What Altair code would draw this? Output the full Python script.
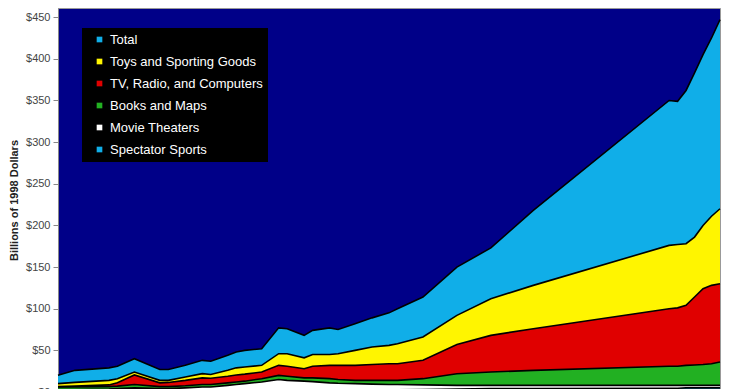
import altair as alt
import pandas as pd

years = [1920, 1922, 1926, 1927, 1929, 1932, 1933, 1935, 1937, 1938, 1940, 1941,
         1942, 1944, 1946, 1947, 1949, 1950, 1952, 1953, 1955, 1957, 1959, 1960,
         1963, 1967, 1971, 1976, 1992, 1993, 1994, 1995, 1996, 1997, 1998]

total = [20, 26, 29, 31, 40, 27, 27, 32, 38, 37, 44, 48,
         50, 52, 77, 76, 68, 74, 77, 75, 82, 89, 95, 100,
         114, 150, 173, 218, 350, 349, 362, 383, 405, 425, 447]
toys = [3.5, 4.5, 5.5, 5, 3.5, 3, 2.5, 4, 5, 4.5, 7, 8.5,
        8.5, 8, 14, 15, 13, 14, 13, 14, 18, 21, 22, 24,
        28, 35, 44, 52, 76, 76, 74, 72, 76, 83, 90]
tv = [0.5, 1, 2, 4, 11.5, 4.5, 5, 6.5, 8, 7.5, 8, 8.5,
      8.5, 8, 12, 12, 11, 14, 16, 17, 18, 19, 20, 20,
      22, 35, 44, 50, 69, 70, 72, 81.5, 91, 94, 94]
books = [3, 3, 3, 3, 4, 2.5, 2.5, 2.5, 3, 3, 3, 3,
         3, 4, 5, 5, 4, 4.5, 5, 4.5, 4, 4.5, 5, 5,
         7.5, 14, 16, 18, 23, 23, 24, 24.5, 25, 26, 28]
movies = [2, 2, 2.5, 3, 3.5, 3, 3, 4, 4.8, 4.8, 6.5, 7.5,
          8.5, 10.5, 13, 12, 11, 10.5, 9, 8.5, 7.5, 7, 6.5, 6.5,
          5.5, 4.5, 4, 4, 3.5, 3.5, 3, 3, 3, 3, 3]
sports = [1, 1, 1, 1, 1.5, 1, 1, 1, 1.2, 1.2, 1.5, 1.5,
          1.5, 1.5, 2, 2, 2, 2, 2, 2, 2.5, 2.5, 2.5, 2.5,
          3, 3.5, 4, 4, 4.5, 4.5, 5, 5, 5, 5, 5]

series_names = ["Total", "Toys and Sporting Goods", "TV, Radio, and Computers",
                "Books and Maps", "Movie Theaters", "Spectator Sports"]
series_colors = ["#10AEE8", "#FFF500", "#E00000", "#22B022", "#FFFFFF", "#10AEE8"]

# Build a long table with lower / upper bounds of each band
rows = []
for i, yr in enumerate(years):
    rows.append({"year": yr, "series": "Total", "lo": 0.0, "hi": total[i], "layer": 0})
    base = 0.0
    for rank, (name, vals) in enumerate([
            ("Spectator Sports", sports),
            ("Movie Theaters", movies),
            ("Books and Maps", books),
            ("TV, Radio, and Computers", tv),
            ("Toys and Sporting Goods", toys)]):
        rows.append({"year": yr, "series": name, "lo": base, "hi": base + vals[i],
                     "layer": rank + 1})
        base += vals[i]
df = pd.DataFrame(rows)

color = alt.Color(
    "series:N",
    title=None,
    scale=alt.Scale(domain=series_names, range=series_colors),
    legend=alt.Legend(
        orient="none", legendX=24, legendY=20,
        fillColor="black", padding=5,
        labelColor="white", labelFontSize=13, labelFont="Liberation Sans",
        symbolType="square", symbolSize=32, symbolStrokeWidth=0,
        symbolOffset=6, labelOffset=4, rowPadding=8,
    ),
)

x = alt.X("year:Q", scale=alt.Scale(domain=[1920, 1998], nice=False, zero=False),
          axis=None)
y_axis = alt.Axis(format="$.0f", values=list(range(0, 451, 50)), tickSize=5,
                  labelPadding=3, labelFontSize=11, labelColor="#444",
                  title="Billions of 1998 Dollars", titleFontSize=11,
                  titleFontWeight="bold", titleColor="#222", titlePadding=6,
                  grid=False, tickColor="#888", domainColor="#888")
y = alt.Y("hi:Q", scale=alt.Scale(domain=[0, 461], nice=False), axis=y_axis)

layers = []
for k in range(6):
    sub = alt.Chart(df).transform_filter(alt.datum.layer == k)
    layers.append(sub.mark_area(opacity=1).encode(x=x, y=y, y2="lo:Q", color=color))
for k in range(6):
    sub = alt.Chart(df).transform_filter(alt.datum.layer == k)
    layers.append(sub.mark_line(color="black", strokeWidth=1.6).encode(
        x=x, y=y, color=alt.value("black")))

chart = alt.layer(*layers).properties(
    width=662, height=384,
    padding={"left": 0, "top": 0, "right": 5, "bottom": 5},
    background="white",
).configure(font="Liberation Sans").configure_view(
    fill="#000088", stroke="#999", strokeWidth=1
)

chart.save("out.html", embed_options={"renderer": "svg", "actions": False})
